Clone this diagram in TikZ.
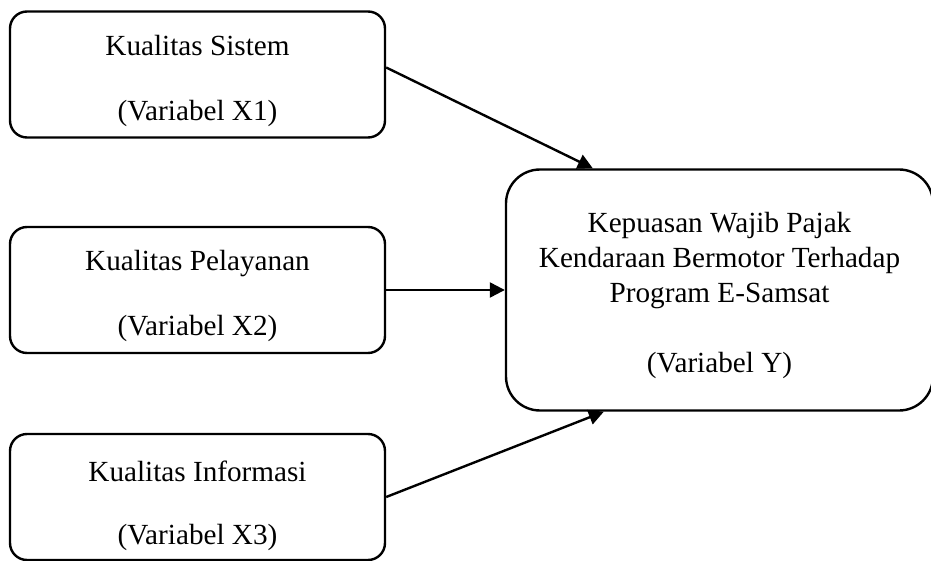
\documentclass[tikz,border=0pt]{standalone}
\usepackage{fontspec}
\setmainfont{Liberation Serif}
\usetikzlibrary{arrows.meta}

\tikzset{
  varbox/.style={draw, line width=2.4pt, rounded corners=17pt, minimum width=375pt,
    minimum height=126pt, inner sep=0pt},
  ybox/.style={draw, line width=2.4pt, rounded corners=34pt, minimum width=427pt,
    minimum height=241pt, inner sep=0pt},
  boxtext/.style={align=center, inner sep=0pt},
  link/.style={-{Triangle[length=15pt, width=15pt]}, line width=2.4pt}
}

\begin{document}
\begin{tikzpicture}[x=1pt, y=-1pt, font=\fontsize{29.2}{35}\selectfont]
  \useasboundingbox (0,0) rectangle (931,561);
  % variabel bebas
  \node[varbox] (x1) at (197.5,74.5) {};
  \node[varbox] (x2) at (197.5,290) {};
  \node[varbox] (x3) at (197.5,497) {};
  \node[boxtext, yshift=-6pt] (t1) at (x1.center) {Kualitas Sistem\\[30pt](Variabel X1)};
  \node[boxtext, yshift=-6pt] (t2) at (x2.center) {Kualitas Pelayanan\\[30pt](Variabel X2)};
  \node[boxtext, yshift=-9pt] (t3) at (x3.center) {Kualitas Informasi\\[28pt](Variabel X3)};
  % variabel terikat
  \node[ybox] (vy) at (719.5,290) {};
  \node[boxtext, yshift=-5pt] (ty) at (vy.center)
    {Kepuasan Wajib Pajak\\Kendaraan Bermotor Terhadap\\Program E-Samsat\\[35pt](Variabel Y)};
  \coordinate (in1) at ([xshift=88pt]vy.north west);
  \coordinate (in3) at ([xshift=99pt]vy.south west);
  \draw[link] ([yshift=7pt]x1.east) -- (in1);
  \draw[link] (x2.east) -- (vy.west);
  \draw[link] (x3.east) -- (in3);
\end{tikzpicture}
\end{document}
